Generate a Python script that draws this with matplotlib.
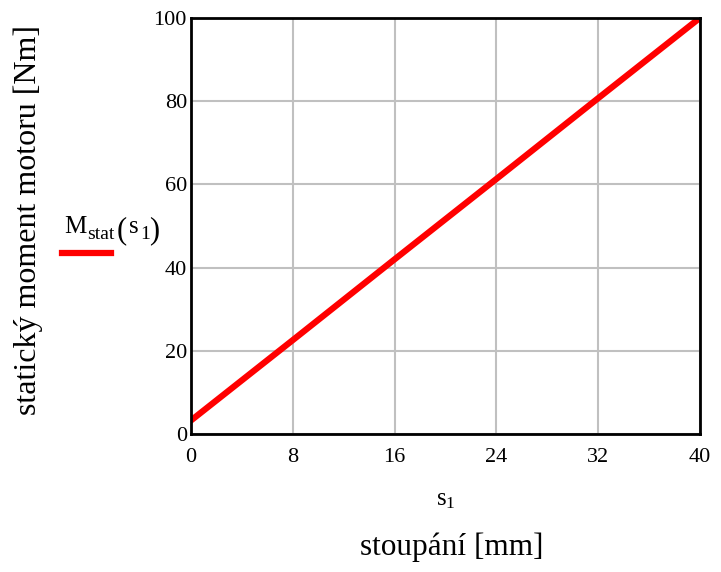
import numpy as np
import matplotlib
matplotlib.use("Agg")
import matplotlib.pyplot as plt

plt.rcParams['font.family'] = ['Liberation Serif', 'DejaVu Serif']
plt.rcParams['mathtext.fontset'] = 'custom'
plt.rcParams['mathtext.rm'] = 'Liberation Serif'
plt.rcParams['mathtext.it'] = 'Liberation Serif'

# values
s1 = [0, 8, 16, 24, 32, 40]              # stoupani [mm]
M_stat = [3.3, 22.6, 42.0, 61.3, 80.7, 100.0]  # staticky moment [Nm]
x_ticks = [0, 8, 16, 24, 32, 40]
y_ticks = [0, 20, 40, 60, 80, 100]

W, H = 721, 572
fig = plt.figure(figsize=(W / 100, H / 100), dpi=100)
ax = fig.add_axes([0.265, 0.241, 0.706, 0.728])

ax.plot(s1, M_stat, color='red', lw=4.5, solid_capstyle='round')
ax.set_xlim(0, 40)
ax.set_ylim(0, 100)
ax.set_xticks(x_ticks)
ax.set_yticks(y_ticks)
ax.tick_params(length=0, labelsize=16)
ax.tick_params(axis='x', pad=10)
ax.tick_params(axis='y', pad=3)
ax.grid(color='#c0c0c0', lw=1.5)
ax.set_axisbelow(True)
for sp in ax.spines.values():
    sp.set_linewidth(2)
    sp.set_color('black')

ax.set_xlabel('s$_1$', fontsize=18, labelpad=16)
fig.text(0.627, 0.018, 'stoupání [mm]', fontsize=22.5, ha='center', va='bottom')
fig.text(0.039, 0.615, 'statický moment motoru [Nm]', fontsize=23,
         rotation=90, ha='center', va='center')

# legend entry built from pieces (Mathcad-like trace label)
pieces = [('M', 64, 233, 18), ('stat', 87, 239, 14), ('(', 117, 238, 22),
          ('s', 129, 233, 18), ('1', 140, 239, 14), (')', 149, 238, 22)]
for txt, px, py, fs in pieces:
    fig.text(px / W, 1 - py / H, txt, fontsize=fs, ha='left', va='baseline')
fig.add_artist(plt.Line2D([62 / W, 111 / W], [1 - 253 / H, 1 - 253 / H],
                          color='red', lw=4.5, transform=fig.transFigure))

fig.savefig('out.png', dpi=100)
